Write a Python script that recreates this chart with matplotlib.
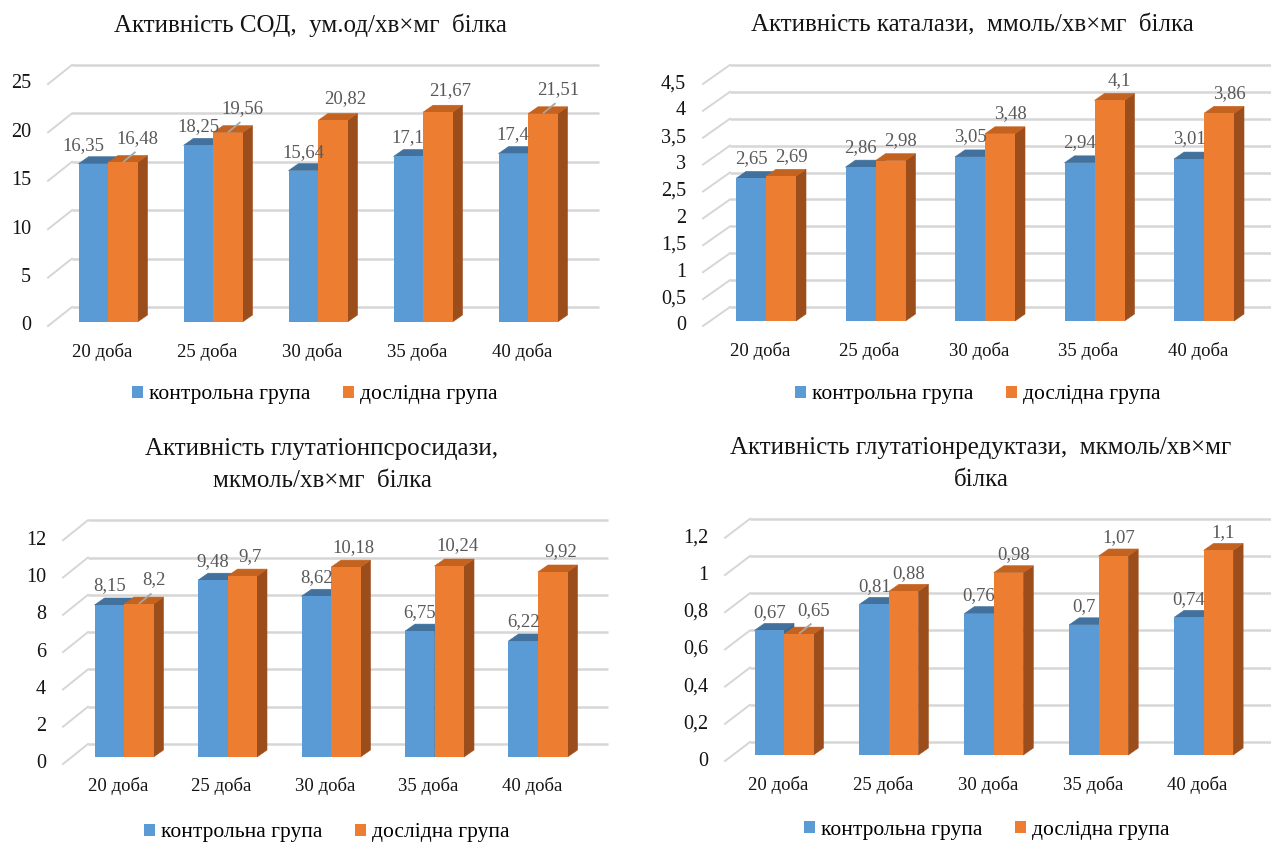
import numpy as np
import matplotlib
matplotlib.use("Agg")
import matplotlib.pyplot as plt
from matplotlib.patches import Polygon, Patch

plt.rcParams["font.family"] = ["Liberation Serif", "DejaVu Serif"]

# ---------------------------------------------------------------- data
categories = ["20 доба", "25 доба", "30 доба", "35 доба", "40 доба"]
series_names = ["контрольна група", "дослідна група"]

sod_control = [16.35, 18.25, 15.64, 17.1, 17.4]
sod_test = [16.48, 19.56, 20.82, 21.67, 21.51]

catalase_control = [2.65, 2.86, 3.05, 2.94, 3.01]
catalase_test = [2.69, 2.98, 3.48, 4.1, 3.86]

gpx_control = [8.15, 9.48, 8.62, 6.75, 6.22]
gpx_test = [8.2, 9.7, 10.18, 10.24, 9.92]

gr_control = [0.67, 0.81, 0.76, 0.7, 0.74]
gr_test = [0.65, 0.88, 0.98, 1.07, 1.1]

titles = [
    "Активність СОД,  ум.од/хв×мг  білка",
    "Активність каталази,  ммоль/хв×мг  білка",
    "Активність глутатіонпсросидази,\nмкмоль/хв×мг  білка",
    "Активність глутатіонредуктази,  мкмоль/хв×мг\nбілка",
]
axis_max = [25, 4.5, 12, 1.2]
axis_step = [5, 0.5, 2, 0.2]

# ---------------------------------------------------------------- style
BLUE, BLUE_TOP, BLUE_SIDE = "#5B9BD5", "#41719C", "#3B6890"
ORANGE, ORANGE_TOP, ORANGE_SIDE = "#ED7D31", "#C4621F", "#9C4D1C"
GRID = "#D6D6D6"
LABEL_GREY = "#595959"
TEXT = "#141414"

W, H = 1271, 842
fig = plt.figure(figsize=(W / 100, H / 100), dpi=100)
PT = 0.72  # points per pixel at 100 dpi

# panel geometry in figure pixels (origin top-left)
layouts = [
    dict(box=(0, 0, 635, 421), cat0=108, step=105.0, bw=29.5, base=322, scale=9.68,
         wall0=307, wall_l=72, wall_r=599, depth=(24, -19),
         title_xy=(310, 25), cat_y=352, legend_xy=(315, 395),
         odx=12, bdy=18.5, ody=22, leaders=[0, 1, 4], blue_nudge={0: -10}),
    dict(box=(635, 0, 1271, 421), cat0=766, step=109.5, bw=30.0, base=321, scale=53.8,
         wall0=307, wall_l=730, wall_r=1275, depth=(27, -19),
         title_xy=(972, 25), cat_y=351, legend_xy=(978, 395),
         odx=10, bdy=20, ody=20, leaders=[], blue_nudge={}),
    dict(box=(0, 421, 635, 842), cat0=124, step=103.5, bw=29.5, base=757, scale=18.65,
         wall0=744, wall_l=88, wall_r=608, depth=(25, -20),
         title_xy=(322, 465), cat_y=786, legend_xy=(327, 833),
         odx=8, bdy=19, ody=20, leaders=[0], blue_nudge={}),
    dict(box=(635, 421, 1271, 842), cat0=784, step=104.9, bw=29.5, base=755, scale=186.0,
         wall0=742, wall_l=750, wall_r=1275, depth=(25, -19),
         title_xy=(981, 464), cat_y=785, legend_xy=(987, 830),
         odx=5, bdy=18, ody=18, leaders=[0], blue_nudge={}),
]

BAR_DEPTH = (10, -7)  # side/top face offset in pixels


def fmt(v):
    return f"{v:g}".replace(".", ",")


def draw_panel(lay, control, test, title, vmax, vstep):
    x0, yt, x1, yb = lay["box"]
    ax = fig.add_axes([x0 / W, 1 - yb / H, (x1 - x0) / W, (yb - yt) / H])
    sx, sy = lay["step"], lay["scale"]
    ax.set_xlim((x0 - lay["cat0"]) / sx, (x1 - lay["cat0"]) / sx)
    ax.set_ylim((lay["base"] - yb) / sy, (lay["base"] - yt) / sy)
    ax.axis("off")

    X = lambda px: (px - lay["cat0"]) / sx
    Y = lambda py: (lay["base"] - py) / sy

    # back wall gridlines and left-wall diagonals
    ddx, ddy = lay["depth"]
    front_l = lay["wall_l"] - ddx
    front0 = lay["wall0"] - ddy
    n = int(round(vmax / vstep))
    ticks = [round(k * vstep, 4) for k in range(n + 1)]
    for v in ticks:
        yb_ = Y(lay["wall0"]) + v
        yf_ = Y(front0) + v
        ax.plot([X(lay["wall_l"]), X(lay["wall_r"])], [yb_, yb_], color=GRID,
                lw=1.8, zorder=1, solid_capstyle="butt", clip_on=False)
        ax.plot([X(front_l), X(lay["wall_l"])], [yf_, yb_], color=GRID,
                lw=1.4, zorder=1, clip_on=False)
        ax.text(X(front_l - 17), yf_, fmt(v), ha="right", va="center",
                fontsize=14.5, color=TEXT)

    # bars: front faces via ax.bar, top and side faces as parallelograms
    idx = np.arange(len(categories))
    w = lay["bw"] / sx
    bx, by = BAR_DEPTH[0] / sx, -BAR_DEPTH[1] / sy
    for vals, off, front, top, side, zf in (
        (control, -w / 2, BLUE, BLUE_TOP, BLUE_SIDE, 3),
        (test, w / 2, ORANGE, ORANGE_TOP, ORANGE_SIDE, 5),
    ):
        ax.bar(idx + off, vals, width=w, color=front, linewidth=0, zorder=zf)
        for i, v in enumerate(vals):
            xl, xr = i + off - w / 2, i + off + w / 2
            ax.add_patch(Polygon([(xr, 0), (xr + bx, by), (xr + bx, v + by), (xr, v)],
                                 closed=True, facecolor=side, edgecolor=side,
                                 lw=0.4, zorder=zf - 1))
            ax.add_patch(Polygon([(xl, v), (xr, v), (xr + bx, v + by), (xl + bx, v + by)],
                                 closed=True, facecolor=top, edgecolor=top,
                                 lw=0.4, zorder=zf - 1))

    # value labels
    for i, (c, t) in enumerate(zip(control, test)):
        ax.annotate(fmt(c), xy=(i - w / 2, c),
                    xytext=(lay["blue_nudge"].get(i, 0) * PT, lay["bdy"] * PT),
                    textcoords="offset points", ha="center", va="center",
                    fontsize=13.5, color=LABEL_GREY, zorder=8)
        if i in lay["leaders"]:
            ax.annotate(fmt(t), xy=(i + w / 2, t), xytext=(15 * PT, 24 * PT),
                        textcoords="offset points", ha="center", va="center",
                        fontsize=13.5, color=LABEL_GREY, zorder=8)
            ax.plot([i + w / 2 + 1 / sx, i + w / 2 + 12 / sx],
                    [t + 1 / sy, t + 10 / sy], color="#A6A6A6", lw=1.3,
                    zorder=8, clip_on=False)
        else:
            ax.annotate(fmt(t), xy=(i + w / 2, t), xytext=(lay["odx"] * PT, lay["ody"] * PT),
                        textcoords="offset points", ha="center", va="center",
                        fontsize=13.5, color=LABEL_GREY, zorder=8)

    # category labels
    for i, name in enumerate(categories):
        ax.text(i - 6 / sx, Y(lay["cat_y"]), name, ha="center", va="center",
                fontsize=13.5, color=TEXT)

    # title
    tx, ty = lay["title_xy"]
    ax.text(X(tx), Y(ty), title, ha="center", va="center", fontsize=18,
            color=TEXT, linespacing=1.6)

    # legend
    handles = [Patch(facecolor=BLUE, edgecolor="none"),
               Patch(facecolor=ORANGE, edgecolor="none")]
    lx, ly = lay["legend_xy"]
    fig.legend(handles, series_names, loc="center",
               bbox_to_anchor=(lx / W, 1 - ly / H), bbox_transform=fig.transFigure,
               ncol=2, frameon=False, fontsize=15.5, handlelength=0.5,
               handleheight=0.5, handletextpad=0.3, columnspacing=1.5,
               borderpad=0, borderaxespad=0)


panels = [
    (sod_control, sod_test),
    (catalase_control, catalase_test),
    (gpx_control, gpx_test),
    (gr_control, gr_test),
]
for lay, (c, t), title, vmax, vstep in zip(layouts, panels, titles, axis_max, axis_step):
    draw_panel(lay, c, t, title, vmax, vstep)

fig.savefig("out.png", dpi=100, facecolor="white")
